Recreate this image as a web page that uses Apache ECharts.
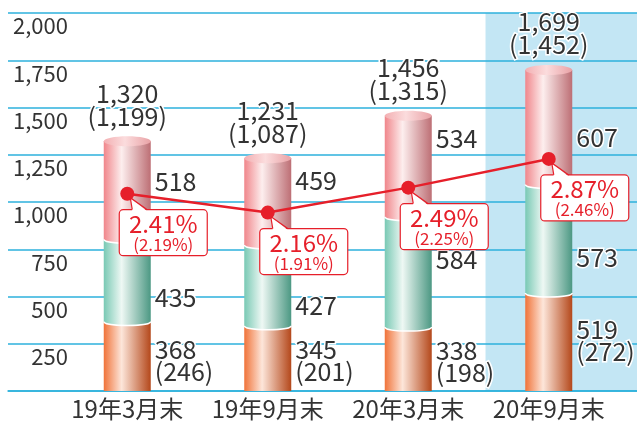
<!DOCTYPE html>
<html>
<head>
<meta charset="utf-8">
<script src="https://cdn.jsdelivr.net/npm/echarts@6/dist/echarts.min.js"></script>
<style>
  html, body { margin: 0; padding: 0; background: #fff; }
  #chart { width: 637px; height: 422px; }
</style>
</head>
<body>
<div id="chart"></div>
<script>
"use strict";

var categories = ["19年3月末", "19年9月末", "20年3月末", "20年9月末"];
var seg1 = [368, 345, 338, 519];
var seg1Sub = [246, 201, 198, 272];
var seg2 = [435, 427, 584, 573];
var seg3 = [518, 459, 534, 607];
var totals = [1320, 1231, 1456, 1699];
var totalsSub = [1199, 1087, 1315, 1452];
var rates = [2.41, 2.16, 2.49, 2.87];
var ratesSub = [2.19, 1.91, 2.25, 2.46];
var yTicks = [0, 250, 500, 750, 1000, 1250, 1500, 1750, 2000];
var highlightIndex = 3;

// label nudges in px (bottom, middle, top), to keep labels clear of callouts
var labelShift = [
  [4, 17, -9],
  [2, 20, -21],
  [2, -12, -28],
  [-1, 19, 10],
];

var FONT = '"Noto Sans CJK JP", "Noto Sans", sans-serif';
var TEXT = "#333333";
var GRID = "#2cb1dc";
var RED = "#e61f2a";

function fmt(v) {
  return v.toLocaleString("en-US");
}

function grad(stops) {
  return new echarts.graphic.LinearGradient(0, 0, 1, 0, stops);
}

var fills = [
  grad([
    { offset: 0, color: "#f07339" },
    { offset: 0.38, color: "#fde6da" },
    { offset: 1, color: "#b4481b" },
  ]),
  grad([
    { offset: 0, color: "#79c9b4" },
    { offset: 0.38, color: "#eef8f4" },
    { offset: 1, color: "#4c9883" },
  ]),
  grad([
    { offset: 0, color: "#f0868b" },
    { offset: 0.38, color: "#fdeeee" },
    { offset: 1, color: "#bd6f75" },
  ]),
];
var capFill = grad([
  { offset: 0, color: "#f3b0b3" },
  { offset: 0.45, color: "#fbdcdd" },
  { offset: 1, color: "#e9a2a6" },
]);

function label(text, x, y, size, color, align) {
  return {
    type: "text",
    style: {
      text: text,
      x: x,
      y: y,
      font: size + "px " + FONT,
      fill: color,
      stroke: "#fff",
      lineWidth: 3,
      align: align || "left",
      verticalAlign: "middle",
      lineHeight: 22,
    },
  };
}

function renderBackground(params, api) {
  var i = api.value(0);
  var band = api.size([1, 0])[0];
  var top = api.coord([i, 2000]);
  var bottom = api.coord([i, 0]);
  var x0 = top[0] - band * 0.45;
  return {
    type: "rect",
    shape: { x: x0, y: top[1], width: api.getWidth() - x0, height: bottom[1] - top[1] },
    style: { fill: "#c3e6f4" },
  };
}

function renderBar(params, api) {
  var i = api.value(0);
  var vals = [api.value(1), api.value(2), api.value(3)];
  var w = 47;
  var ry = 4;
  var cx = api.coord([i, 0])[0];
  var x0 = cx - w / 2;
  var x1 = cx + w / 2;
  var children = [];
  var cum = 0;
  var yTop = 0;
  for (var k = 0; k < 3; k++) {
    var yb = api.coord([i, cum])[1];
    cum += vals[k];
    var yt = api.coord([i, cum])[1];
    var d;
    if (k === 0) {
      d = "M" + x0 + " " + yt + "L" + x0 + " " + yb + "L" + x1 + " " + yb + "L" + x1 + " " + yt + "Z";
    } else {
      d = "M" + x0 + " " + yt + "L" + x0 + " " + yb +
        "C" + x0 + " " + (yb + ry * 4 / 3) + " " + x1 + " " + (yb + ry * 4 / 3) + " " + x1 + " " + yb +
        "L" + x1 + " " + yt + "Z";
    }
    children.push({ type: "path", shape: { pathData: d }, style: { fill: fills[k] } });
    if (k > 0) {
      children.push({
        type: "bezierCurve",
        shape: { x1: x0, y1: yb, cpx1: x0, cpy1: yb + ry * 4 / 3, cpx2: x1, cpy2: yb + ry * 4 / 3, x2: x1, y2: yb },
        style: { stroke: "#ffffff", lineWidth: 1.5, fill: null },
      });
    }
    var ym = (yb + yt) / 2 + labelShift[i][k];
    var txt = k === 0 ? vals[k] + "\n(" + seg1Sub[i] + ")" : String(vals[k]);
    children.push(label(txt, x1 + 4, ym, 25, TEXT));
    yTop = yt;
  }
  children.push({
    type: "ellipse",
    shape: { cx: cx, cy: yTop, rx: w / 2, ry: 5 },
    style: { fill: capFill },
  });
  var yTot = api.coord([i, totals[i]])[1];
  children.push(label(fmt(totals[i]), cx, yTot - 48, 25, TEXT, "center"));
  children.push(label("(" + fmt(totalsSub[i]) + ")", cx, yTot - 25, 25, TEXT, "center"));
  return { type: "group", children: children };
}

function renderCallout(params, api) {
  var i = api.value(0);
  var p = api.coord([i, api.value(1)]);
  var left = p[0] - 8;
  var top = p[1] + 16;
  var w = 88;
  var h = 46;
  return {
    type: "group",
    children: [
      {
        type: "rect",
        shape: { x: left, y: top, width: w, height: h, r: 4 },
        style: { fill: "#fff", stroke: RED, lineWidth: 1.2 },
      },
      {
        type: "polygon",
        shape: { points: [[p[0] + 3, p[1] + 4], [p[0] + 5, top + 1.5], [p[0] + 20, top + 1.5]] },
        style: { fill: "#fff" },
      },
      {
        type: "polyline",
        shape: { points: [[p[0] + 5, top], [p[0] + 3, p[1] + 4], [p[0] + 20, top]] },
        style: { stroke: RED, lineWidth: 1.2, fill: null },
      },
      {
        type: "text",
        style: {
          text: rates[i].toFixed(2) + "%",
          x: left + w / 2, y: top + 14,
          font: "24px " + FONT, fill: RED, align: "center", verticalAlign: "middle",
        },
      },
      {
        type: "text",
        style: {
          text: "(" + ratesSub[i].toFixed(2) + "%)",
          x: left + w / 2, y: top + 35,
          font: "17px " + FONT, fill: RED, align: "center", verticalAlign: "middle",
        },
      },
    ],
  };
}

function chart() {
  var el = document.getElementById("chart");
  var myChart = echarts.init(el, null, { renderer: "canvas" });

  var barData = categories.map(function (c, i) {
    return [i, seg1[i], seg2[i], seg3[i]];
  });
  var rateData = categories.map(function (c, i) {
    return [i, rates[i]];
  });

  var option = {
    animation: false,
    textStyle: { fontFamily: FONT },
    grid: [
      { left: 8, right: 0, top: 13, bottom: 31 },
      { left: 57, right: 18, top: 13, bottom: 31 },
    ],
    xAxis: [
      {
        gridIndex: 0,
        type: "category",
        data: [""],
        axisLine: { show: true, lineStyle: { color: GRID, width: 1.5 } },
        axisTick: { show: false },
        axisLabel: { show: false },
      },
      {
        gridIndex: 1,
        type: "category",
        data: categories,
        axisLine: { show: false },
        axisTick: { show: false },
        axisLabel: { interval: 0, color: TEXT, fontSize: 24, fontFamily: FONT, margin: 6 },
      },
    ],
    yAxis: [
      {
        gridIndex: 0,
        type: "value",
        min: yTicks[0],
        max: yTicks[yTicks.length - 1],
        interval: yTicks[1] - yTicks[0],
        axisLine: { show: false },
        axisTick: { show: false },
        splitLine: { lineStyle: { color: GRID, width: 1.5 } },
        axisLabel: {
          color: TEXT,
          fontSize: 22,
          fontFamily: FONT,
          align: "right",
          verticalAlign: "top",
          padding: [2, 0, 0, 0],
          margin: -60,
          formatter: function (v) {
            return v === 0 ? "" : fmt(v);
          },
        },
      },
      {
        gridIndex: 1,
        type: "value",
        min: yTicks[0],
        max: yTicks[yTicks.length - 1],
        show: false,
      },
      {
        gridIndex: 1,
        type: "value",
        min: -0.2,
        max: 4.8,
        show: false,
      },
    ],
    series: [
      {
        name: "bg",
        type: "custom",
        xAxisIndex: 1,
        yAxisIndex: 1,
        z: -1,
        silent: true,
        renderItem: renderBackground,
        data: [[highlightIndex]],
      },
      {
        name: "balance",
        type: "custom",
        xAxisIndex: 1,
        yAxisIndex: 1,
        z: 3,
        renderItem: renderBar,
        data: barData,
      },
      {
        name: "callout",
        type: "custom",
        xAxisIndex: 1,
        yAxisIndex: 2,
        z: 4,
        renderItem: renderCallout,
        data: rateData,
      },
      {
        name: "rate",
        type: "line",
        xAxisIndex: 1,
        yAxisIndex: 2,
        z: 5,
        data: rates,
        symbol: "circle",
        symbolSize: 14,
        itemStyle: { color: RED },
        lineStyle: { color: RED, width: 2.5 },
      },
    ],
  };

  myChart.setOption(option);
}

chart();
</script>
</body>
</html>
